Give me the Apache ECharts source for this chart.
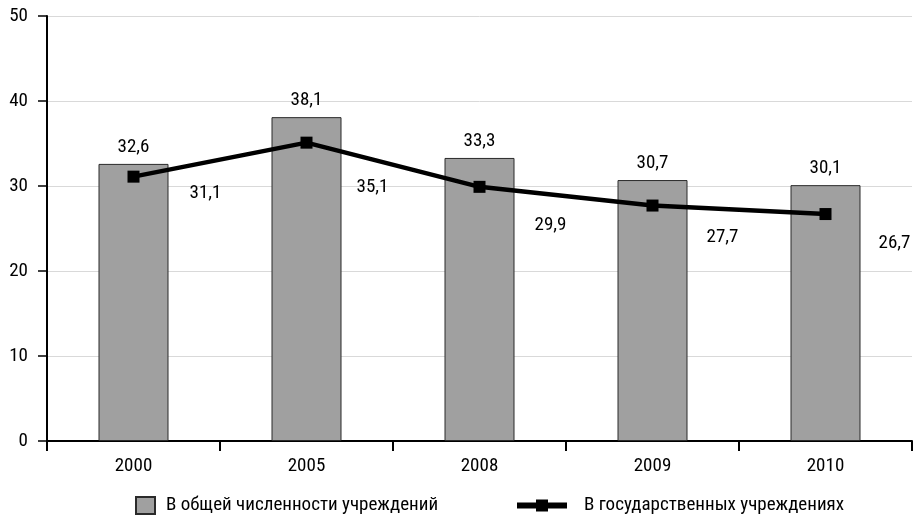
<!DOCTYPE html>
<html><head><meta charset="utf-8">
<script src="https://cdn.jsdelivr.net/npm/echarts@6/dist/echarts.min.js"></script>
<style>html,body{margin:0;padding:0;background:#fff}#c{width:915px;height:518px}</style>
</head><body><div id="c"></div>
<script>
const categories = ['2000', '2005', '2008', '2009', '2010'];
const totalValues = [32.6, 38.1, 33.3, 30.7, 30.1];
const stateValues = [31.1, 35.1, 29.9, 27.7, 26.7];
const yTicks = [0, 10, 20, 30, 40, 50];
const seriesNames = ['В общей численности учреждений', 'В государственных учреждениях'];

const FONT = '"Roboto Condensed", "Liberation Sans Narrow", "Arial Narrow", sans-serif';
const NUM = 19;
const fmt = v => String(v).replace('.', ',');
const lineLabelOffsets = [[72, 17], [66, 45], [71, 38], [70, 32], [69, 29]];

const chart = echarts.init(document.getElementById('c'));
chart.setOption({
  animation: false,
  textStyle: { fontFamily: FONT },
  grid: { left: 47, right: 3, top: 16, bottom: 77 },
  legend: [
    { data: [{ name: seriesNames[0], icon: 'rect' }], left: 130, top: 491, itemWidth: 19, itemHeight: 17, itemGap: 10,
      textStyle: { fontFamily: FONT, fontSize: 19, color: '#000', padding: [0, 0, 0, 6] } },
    { data: [seriesNames[1]], left: 509, top: 491, itemWidth: 50, itemHeight: 15,
      lineStyle: { width: 6, color: '#000' },
      textStyle: { fontFamily: FONT, fontSize: 19, color: '#000', padding: [0, 0, 0, 12] } }
  ],
  xAxis: {
    type: 'category', data: categories,
    axisLine: { lineStyle: { color: '#000', width: 2 } },
    axisTick: { show: true, length: 10, alignWithLabel: false, lineStyle: { color: '#000', width: 2 } },
    axisLabel: { fontFamily: FONT, fontSize: NUM, color: '#000', margin: 16 }
  },
  yAxis: {
    type: 'value', min: yTicks[0], max: yTicks[yTicks.length - 1], interval: yTicks[1] - yTicks[0],
    axisLine: { show: true, lineStyle: { color: '#000', width: 2 } },
    axisTick: { show: true, length: 9, lineStyle: { color: '#000', width: 1.5 } },
    axisLabel: { fontFamily: FONT, fontSize: NUM, color: '#000', margin: 19 },
    splitLine: { show: true, lineStyle: { color: '#d9d9d9', width: 1 } }
  },
  series: [
    {
      name: seriesNames[0], type: 'bar', data: totalValues, barWidth: 70,
      itemStyle: { color: '#a0a0a0', borderColor: '#2a2a2a', borderWidth: 1 },
      label: { show: true, position: 'top', distance: 7, formatter: p => fmt(p.value),
        fontFamily: FONT, fontSize: NUM, color: '#000' }
    },
    {
      name: seriesNames[1], type: 'line',
      data: stateValues.map((v, i) => ({
        value: v,
        label: { offset: lineLabelOffsets[i] }
      })),
      symbol: 'rect', symbolSize: 12,
      lineStyle: { color: '#000', width: 4.5 },
      itemStyle: { color: '#000' },
      label: { show: true, position: 'inside', formatter: p => fmt(p.value),
        fontFamily: FONT, fontSize: NUM, color: '#000' }
    }
  ]
});
</script></body></html>
